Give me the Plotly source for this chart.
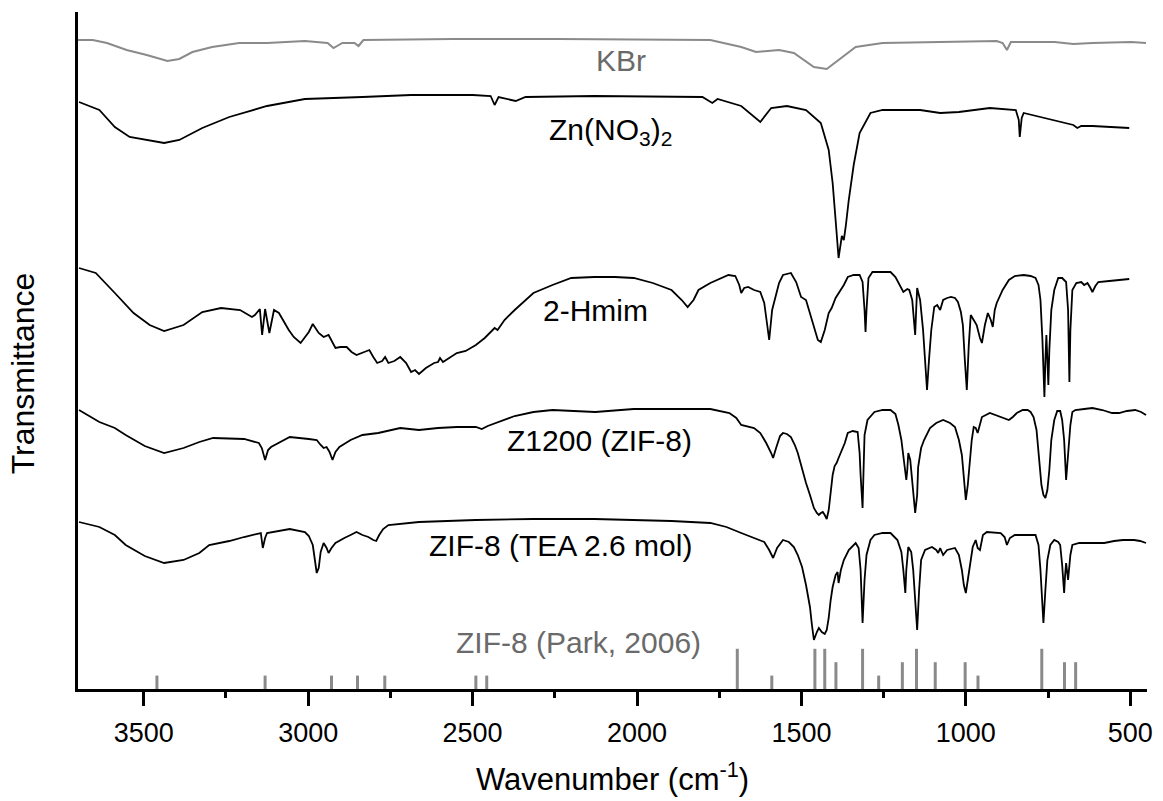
import plotly.graph_objects as go

# ---------------- data (wavenumber in cm^-1, transmittance in arbitrary offset units) -------------
kbr_wn = [3700, 3655, 3612, 3552, 3491, 3428, 3392, 3352, 3292, 3210, 3125, 3010, 2941, 2923, 2896,
          2859, 2847, 2832, 2560, 2242, 1777, 1683, 1638, 1568, 1523, 1462, 1423, 1380, 1335, 1253,
          1078, 906, 888, 875, 863, 730, 673, 615, 497, 452]
kbr_t = [649, 649, 646, 639, 634, 628, 630, 637, 642, 646, 646, 648, 646, 641, 646,
         646, 643, 649, 650, 650, 649, 642, 637, 639, 636, 622, 620, 631, 642, 646,
         647, 648, 646, 639, 647, 647, 645, 646, 647, 646]

zn_wn = [3697, 3635, 3588, 3543, 3438, 3392, 3322, 3240, 3125, 3010, 2835, 2687, 2499, 2445, 2433,
         2421, 2369, 2339, 2130, 1801, 1771, 1755, 1683, 1638, 1625, 1592, 1544, 1486, 1441, 1417,
         1405, 1396, 1387, 1377, 1371, 1365, 1356, 1341, 1323, 1290, 1253, 1139, 1078, 1021, 927,
         848, 839, 836, 830, 824, 776, 673, 661, 649, 615, 503]
zn_t = [587, 579, 562, 552, 546, 549, 561, 572, 583, 590, 592, 594, 594, 593, 584,
        592, 588, 592, 593, 592, 586, 590, 583, 571, 567, 581, 583, 579, 566, 539,
        506, 469, 431, 453, 449, 463, 489, 524, 556, 576, 579, 579, 576, 577, 581,
        579, 569, 552, 571, 576, 572, 564, 561, 563, 563, 561]

hmim_wn = [3697, 3646, 3588, 3531, 3482, 3438, 3379, 3322, 3265, 3207, 3171, 3162, 3147, 3140, 3131,
           3118, 3104, 3089, 3059, 3044, 3023, 2998, 2986, 2968, 2953, 2938, 2917, 2902, 2883, 2868,
           2853, 2832, 2814, 2802, 2790, 2775, 2766, 2756, 2738, 2720, 2702, 2687, 2675, 2663, 2642,
           2617, 2605, 2599, 2590, 2548, 2521, 2490, 2463, 2433, 2424, 2403, 2372, 2315, 2257, 2200,
           2130, 2067, 2010, 1952, 1895, 1864, 1846, 1828, 1813, 1777, 1743, 1722, 1701, 1689, 1683,
           1674, 1662, 1644, 1625, 1613, 1604, 1598, 1589, 1580, 1568, 1556, 1532, 1516, 1507, 1501,
           1486, 1468, 1450, 1441, 1429, 1417, 1408, 1396, 1380, 1371, 1359, 1341, 1323, 1314, 1308,
           1305, 1302, 1296, 1284, 1229, 1214, 1199, 1190, 1178, 1172, 1163, 1157, 1154, 1151, 1148,
           1139, 1130, 1124, 1118, 1112, 1105, 1096, 1087, 1078, 1069, 1057, 1045, 1033, 1024, 1015,
           1009, 1003, 997, 991, 985, 976, 967, 957, 951, 942, 933, 924, 918, 912, 906,
           888, 869, 851, 824, 803, 788, 779, 773, 767, 761, 758, 755, 752, 749, 746,
           740, 731, 719, 707, 695, 689, 685, 682, 676, 664, 649, 640, 630, 621, 615,
           606, 597, 564, 534, 503]
hmim_t = [421, 416, 396, 376, 364, 358, 364, 377, 381, 379, 372, 374, 380, 354, 380,
          356, 379, 376, 359, 352, 346, 357, 365, 356, 352, 354, 341, 342, 342, 337,
          334, 337, 339, 332, 326, 328, 332, 326, 328, 332, 326, 317, 319, 315, 321,
          326, 327, 331, 327, 336, 338, 344, 351, 361, 359, 369, 379, 396, 404, 411,
          412, 412, 411, 406, 399, 389, 382, 389, 399, 406, 411, 414, 413, 404, 396,
          401, 402, 399, 397, 386, 364, 349, 379, 392, 406, 414, 416, 407, 399, 392,
          389, 369, 349, 347, 359, 376, 381, 391, 399, 404, 412, 414, 414, 407, 379,
          357, 379, 411, 417, 417, 412, 402, 397, 400, 399, 389, 359, 354, 379, 401,
          389, 359, 329, 299, 329, 359, 382, 384, 379, 389, 391, 392, 391, 387, 377,
          364, 329, 299, 344, 374, 369, 364, 351, 346, 364, 376, 369, 362, 379, 386,
          399, 409, 413, 414, 413, 411, 404, 389, 349, 292, 329, 354, 329, 304, 339,
          379, 399, 411, 411, 407, 379, 307, 359, 399, 406, 407, 404, 406, 401, 397,
          403, 407, 408, 409, 410]

z1200_wn = [3697, 3635, 3588, 3555, 3497, 3438, 3379, 3331, 3289, 3195, 3150, 3141, 3131, 3122, 3113,
            3056, 2998, 2974, 2962, 2953, 2944, 2935, 2926, 2917, 2905, 2871, 2835, 2787, 2720, 2663,
            2605, 2548, 2490, 2472, 2454, 2372, 2315, 2257, 2127, 2010, 1895, 1777, 1719, 1698, 1683,
            1662, 1644, 1625, 1607, 1592, 1586, 1577, 1565, 1556, 1544, 1532, 1520, 1511, 1498, 1486,
            1474, 1462, 1453, 1447, 1441, 1435, 1429, 1423, 1417, 1411, 1405, 1399, 1393, 1387, 1380,
            1368, 1359, 1344, 1329, 1323, 1320, 1317, 1314, 1311, 1308, 1299, 1278, 1253, 1229, 1214,
            1205, 1196, 1187, 1181, 1178, 1175, 1169, 1163, 1157, 1154, 1148, 1145, 1136, 1127, 1109,
            1090, 1069, 1048, 1033, 1021, 1012, 1006, 1000, 994, 988, 982, 976, 970, 964, 957,
            951, 927, 912, 894, 882, 869, 857, 845, 827, 812, 803, 794, 785, 776, 770,
            764, 758, 752, 746, 740, 731, 722, 713, 707, 701, 695, 689, 682, 676, 667,
            640, 615, 585, 555, 534, 510, 485, 467, 452]
z1200_t = [279, 267, 261, 254, 243, 236, 241, 247, 251, 250, 246, 241, 229, 239, 242,
           252, 250, 249, 244, 241, 242, 237, 229, 237, 242, 249, 254, 256, 261, 259,
           261, 262, 262, 260, 263, 273, 277, 279, 277, 280, 280, 280, 276, 271, 264,
           262, 261, 256, 246, 236, 231, 241, 253, 256, 255, 252, 244, 236, 219, 206,
           194, 181, 176, 174, 176, 177, 174, 170, 179, 194, 214, 223, 226, 231, 236,
           246, 256, 258, 257, 236, 214, 194, 181, 219, 254, 269, 277, 279, 279, 275,
           264, 249, 227, 209, 219, 236, 229, 209, 189, 176, 194, 222, 241, 249, 261,
           266, 269, 266, 262, 249, 234, 209, 189, 204, 229, 249, 262, 261, 256, 264,
           272, 276, 274, 272, 270, 269, 272, 276, 279, 279, 277, 272, 259, 229, 204,
           194, 191, 199, 219, 249, 269, 278, 278, 269, 249, 209, 234, 264, 277, 279,
           280, 281, 279, 276, 276, 278, 279, 277, 274]

tea_wn = [3697, 3635, 3588, 3555, 3497, 3438, 3379, 3331, 3301, 3240, 3195, 3144, 3138, 3131, 3125,
          3056, 3010, 2998, 2986, 2980, 2974, 2968, 2962, 2953, 2944, 2938, 2929, 2917, 2902, 2890,
          2871, 2853, 2835, 2817, 2802, 2793, 2784, 2772, 2756, 2663, 2490, 2315, 2130, 1895, 1777,
          1728, 1683, 1644, 1613, 1598, 1586, 1574, 1556, 1538, 1523, 1511, 1498, 1486, 1474, 1468,
          1462, 1453, 1447, 1438, 1429, 1423, 1417, 1411, 1405, 1396, 1390, 1387, 1380, 1371, 1356,
          1335, 1326, 1320, 1314, 1308, 1302, 1290, 1278, 1253, 1229, 1208, 1196, 1190, 1184, 1181,
          1175, 1166, 1160, 1154, 1148, 1142, 1136, 1124, 1103, 1090, 1084, 1078, 1069, 1057, 1033,
          1021, 1012, 1006, 1000, 994, 988, 979, 970, 964, 957, 948, 936, 894, 882, 875,
          866, 851, 788, 779, 773, 767, 764, 758, 752, 743, 731, 719, 713, 707, 701,
          698, 695, 689, 682, 676, 655, 615, 579, 549, 522, 488, 470, 452]
tea_t = [167, 162, 154, 144, 133, 126, 129, 136, 144, 148, 152, 156, 141, 151, 156,
         160, 157, 153, 144, 129, 116, 121, 137, 146, 141, 136, 141, 146, 149, 151,
         154, 157, 154, 152, 149, 148, 154, 160, 164, 167, 169, 170, 170, 168, 166,
         162, 156, 151, 147, 139, 131, 141, 149, 147, 142, 134, 122, 104, 82, 64,
         49, 57, 61, 57, 55, 59, 71, 89, 102, 114, 117, 106, 119, 129, 139,
         146, 141, 119, 66, 109, 134, 149, 154, 156, 156, 149, 137, 119, 96, 119,
         142, 137, 119, 89, 59, 99, 129, 139, 142, 139, 136, 141, 134, 139, 141,
         134, 119, 104, 96, 109, 124, 142, 149, 141, 139, 154, 157, 156, 152, 144,
         151, 154, 154, 144, 119, 84, 66, 99, 129, 144, 149, 147, 144, 124, 96,
         114, 126, 109, 134, 144, 146, 146, 146, 148, 149, 149, 148, 146]

# ZIF-8 reference band positions (Park et al., 2006) and relative intensity (1 weak, 2 medium, 3 strong)
park_wn = [3460, 3131, 2929, 2850, 2767, 2490, 2457, 1695, 1590, 1459, 1429, 1395, 1314, 1265,
           1193, 1150, 1093, 1002, 963, 769, 700, 666]
park_int = [1, 1, 1, 1, 1, 1, 1, 3, 1, 3, 3, 2, 3, 1, 2, 3, 2, 2, 1, 3, 2, 2]

x_tick_vals = [3500, 3000, 2500, 2000, 1500, 1000, 500]

# ---------------- figure ----------------
BLACK = "#000000"
GRAY = "#8a8a8a"
LABEL_GRAY = "#6a6a6a"
FONT = "Arial, Liberation Sans, sans-serif"
BAR_UNIT = 13.4

fig = go.Figure()

fig.add_trace(go.Scatter(x=kbr_wn, y=kbr_t, mode="lines", line=dict(color=GRAY, width=2), showlegend=False))
for wn, t in [(zn_wn, zn_t), (hmim_wn, hmim_t), (z1200_wn, z1200_t), (tea_wn, tea_t)]:
    fig.add_trace(go.Scatter(x=wn, y=t, mode="lines", line=dict(color=BLACK, width=1.8), showlegend=False))

bx, by = [], []
for w, i in zip(park_wn, park_int):
    bx += [w, w, None]
    by += [0, i * BAR_UNIT, None]
fig.add_trace(go.Scatter(x=bx, y=by, mode="lines", line=dict(color=GRAY, width=3), showlegend=False))

labels = [
    ("KBr", 2049, 629, LABEL_GRAY),
    ("Zn(NO<sub>3</sub>)<sub>2</sub>", 2082, 558, BLACK),
    ("2-Hmim", 2127, 379, BLACK),
    ("Z1200 (ZIF-8)", 2115, 249, BLACK),
    ("ZIF-8 (TEA 2.6 mol)", 2233, 144, BLACK),
    ("ZIF-8 (Park, 2006)", 2179, 47, LABEL_GRAY),
]
for txt, lx, ly, col in labels:
    fig.add_annotation(x=lx, y=ly, text=txt, showarrow=False, xanchor="center", yanchor="middle",
                       font=dict(family=FONT, size=30, color=col))

fig.add_annotation(xref="paper", yref="paper", x=0.5, y=-0.162, text="Wavenumber (cm<sup>-1</sup>)",
                   showarrow=False, xanchor="center", yanchor="bottom",
                   font=dict(family=FONT, size=31, color=BLACK))
fig.add_annotation(xref="paper", yref="paper", x=-0.052, y=0.467, text="Transmittance", textangle=-90,
                   showarrow=False, xanchor="center", yanchor="middle",
                   font=dict(family=FONT, size=32, color=BLACK))

fig.update_layout(
    width=1163, height=801,
    margin=dict(l=78, r=10, t=12, b=112),
    paper_bgcolor="white", plot_bgcolor="white",
    font=dict(family=FONT, color=BLACK),
    xaxis=dict(range=[3700, 449], showgrid=False, zeroline=False, showline=True, linecolor=BLACK,
               linewidth=3, ticks="outside", ticklen=14, tickwidth=3, tickcolor=BLACK,
               tickvals=x_tick_vals, ticktext=[str(v) for v in x_tick_vals],
               tickfont=dict(family=FONT, size=27, color=BLACK), ticklabelstandoff=4,
               minor=dict(ticks="outside", ticklen=6, tickwidth=2.5, tickcolor=BLACK, dtick=250, tick0=0)),
    yaxis=dict(range=[0, 677], showgrid=False, zeroline=False, showline=True, linecolor=BLACK,
               linewidth=3, ticks="", showticklabels=False),
)

fig.write_html("out.html")
